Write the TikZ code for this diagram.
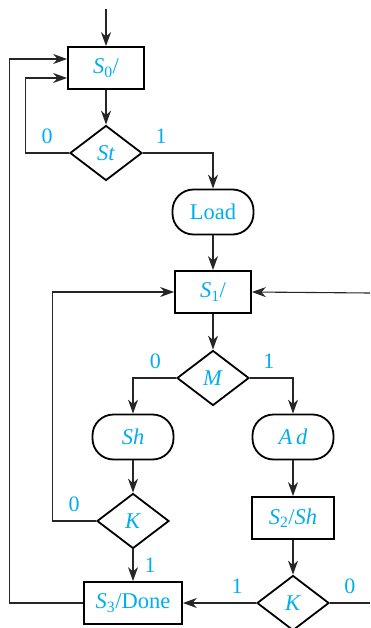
\documentclass[tikz,border=0pt]{standalone}
\usepackage{fontspec}
\setmainfont{Liberation Serif}
\usetikzlibrary{shapes.geometric, arrows.meta, positioning}
\definecolor{asmcyan}{RGB}{0,174,239}

\begin{document}
\begin{tikzpicture}[
  x=1pt, y=-1pt,
  box/.style={rectangle, draw, line width=1.8pt, minimum width=76pt,
              minimum height=42pt, inner sep=0pt, align=center,
              font=\fontsize{22.5}{25}\selectfont, text=asmcyan},
  decision/.style={box, diamond, aspect=1.3, minimum width=72pt, minimum height=55pt},
  output/.style={box, rounded corners=21pt, minimum width=81pt, minimum height=45pt},
  arrow/.style={-{Stealth[length=14pt, width=10pt, inset=4.5pt]}, line width=1.1pt, draw=black!85},
  line/.style={line width=1.1pt, draw=black!85},
  lbl/.style={font=\fontsize{22}{25}\selectfont, text=asmcyan, inner sep=3pt}
]
\useasboundingbox (0,0) rectangle (370,628);

\node[box] (s0) at (106,68) {\textit{S}\textsubscript{0}/};
\node[decision] (st) at (106,153) {\textit{St}};
\node[output] (load) at (213,212) {Load};
\node[box] (s1) at (213,292) {\textit{S}\textsubscript{1}/};
\node[decision] (m) at (213,378) {\textit{M}};
\node[output] (sh) at (133,437) {\textit{Sh}};
\node[output] (ad) at (293,437) {\textit{A\,d}};
\node[decision] (kl) at (133,521) {\textit{K}};
\node[box, minimum width=82pt] (s2) at (293,518) {\textit{S}\textsubscript{2}/\textit{Sh}};
\node[decision] (kr) at (293,603) {\textit{K}};
\node[box, minimum width=98pt] (s3) at (133,603) {\textit{S}\textsubscript{3}/Done};

\coordinate (entry) at (106,9);
\coordinate (exitr) at (370,603);
\coordinate (entryr) at (370,293);

\draw[arrow] (entry) -- (s0);
\draw[arrow] (s0) -- (st);
\draw[arrow] (st.west) -- node[lbl, above=6pt] {0} ++(-44,0) |- ([yshift=-10pt]s0.west);
\draw[arrow] (st.east) -| node[lbl, above=6pt, pos=0.13] {1} (load);
\draw[arrow] (load) -- (s1);
\draw[arrow] (s1) -- (m);
\draw[arrow] (m.west) -| node[lbl, above=6pt, pos=0.24] {0} (sh);
\draw[arrow] (m.east) -| node[lbl, above=6pt, pos=0.22] {1} (ad);
\draw[arrow] (sh) -- (kl);
\draw[arrow] (ad) -- (s2);
\draw[arrow] (s2) -- (kr);
\draw[arrow] (kl) -- node[lbl, right=8pt] {1} (s3);
\draw[arrow] (kl.west) -- node[lbl, above=6pt] {0} ++(-44,0) |- (s1.west);
\draw[arrow] (kr.west) -- node[lbl, above=6pt, pos=0.26] {1} (s3.east);
\draw[line] (kr.east) -- node[lbl, above=6pt] {0} (exitr);
\draw[arrow] (entryr) -- (s1.east);
\draw[arrow] (s3.west) -- ++(-74,0) |- ([yshift=9pt]s0.west);

\end{tikzpicture}
\end{document}
